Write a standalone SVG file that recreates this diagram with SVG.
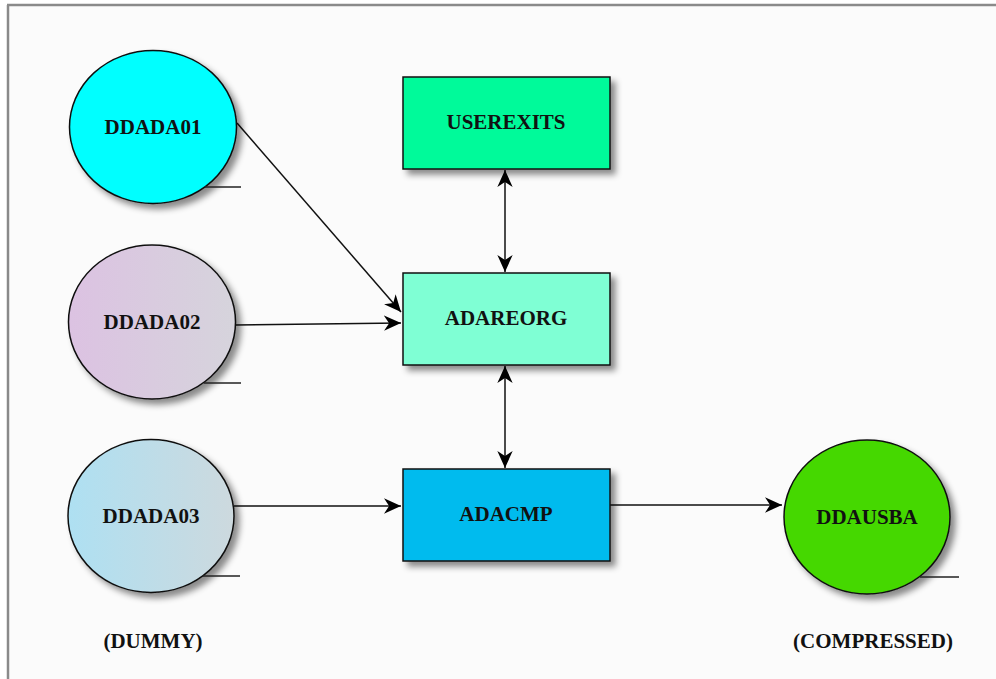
<svg xmlns="http://www.w3.org/2000/svg" width="996" height="679" viewBox="0 0 996 679">
  <defs>
    <filter id="sh" x="-20%" y="-20%" width="150%" height="150%">
      <feDropShadow dx="5" dy="5" stdDeviation="3" flood-color="#000" flood-opacity="0.45"/>
    </filter>
    <linearGradient id="g2" x1="0" y1="0" x2="1" y2="0">
      <stop offset="0" stop-color="#dcc2e2"/>
      <stop offset="1" stop-color="#d6d4dc"/>
    </linearGradient>
    <linearGradient id="g3" x1="0" y1="0" x2="1" y2="0">
      <stop offset="0" stop-color="#aee0f2"/>
      <stop offset="1" stop-color="#cdd9de"/>
    </linearGradient>
    <marker id="ah" viewBox="0 0 10 10" refX="10" refY="5" markerWidth="17" markerHeight="17" markerUnits="userSpaceOnUse" orient="auto-start-reverse">
      <path d="M0,0.5 L10,5 L0,9.5 L3,5 Z" fill="#000"/>
    </marker>
    <style>
      .nd { stroke: #111; stroke-width: 1.5; filter: url(#sh); }
      .lb { font-family: "Liberation Serif", "DejaVu Serif", serif; font-weight: bold; font-size: 21px; fill: #111; text-anchor: middle; }
      .ul { stroke: #222; stroke-width: 1.3; }
      .cn { stroke: #111; stroke-width: 1.5; fill: none; }
    </style>
  </defs>
  <rect x="0" y="0" width="996" height="679" fill="#ffffff"/>
  <rect x="8" y="5" width="1000" height="700" fill="#fbfbfb"/>
  <line x1="7" y1="5" x2="996" y2="5" stroke="#8a8a8a" stroke-width="2.5"/>
  <line x1="8" y1="5" x2="8" y2="679" stroke="#8a8a8a" stroke-width="2.5"/>

  <g id="connectors">
    <line class="cn" x1="237" y1="123" x2="401" y2="312" marker-end="url(#ah)"/>
    <line class="cn" x1="235" y1="325" x2="401" y2="323" marker-end="url(#ah)"/>
    <line class="cn" x1="234" y1="506" x2="401" y2="506" marker-end="url(#ah)"/>
    <line class="cn" x1="610" y1="505" x2="782" y2="505" marker-end="url(#ah)"/>
    <line class="cn" x1="505" y1="170" x2="505" y2="272" marker-start="url(#ah)" marker-end="url(#ah)"/>
    <line class="cn" x1="505" y1="366" x2="505" y2="468" marker-start="url(#ah)" marker-end="url(#ah)"/>
  </g>

  <g id="DDADA01">
    <ellipse class="nd" cx="153" cy="127" rx="83.5" ry="76.5" fill="#00ffff"/>
    <line class="ul" x1="205" y1="187" x2="241" y2="187"/>
    <text class="lb" x="153" y="134">DDADA01</text>
  </g>
  <g id="DDADA02">
    <ellipse class="nd" cx="152" cy="322" rx="83.5" ry="77" fill="url(#g2)"/>
    <line class="ul" x1="204" y1="383" x2="241" y2="383"/>
    <text class="lb" x="152" y="329">DDADA02</text>
  </g>
  <g id="DDADA03">
    <ellipse class="nd" cx="151" cy="516" rx="83" ry="76.5" fill="url(#g3)"/>
    <line class="ul" x1="203" y1="576" x2="240" y2="576"/>
    <text class="lb" x="151" y="523">DDADA03</text>
  </g>
  <g id="USEREXITS">
    <rect class="nd" x="403" y="77" width="207" height="92" fill="#00fa9a"/>
    <text class="lb" x="506" y="129">USEREXITS</text>
  </g>
  <g id="ADAREORG">
    <rect class="nd" x="403" y="273" width="207" height="92" fill="#7fffd4"/>
    <text class="lb" x="506" y="325">ADAREORG</text>
  </g>
  <g id="ADACMP">
    <rect class="nd" x="403" y="469" width="207" height="92" fill="#00bbee"/>
    <text class="lb" x="506" y="521">ADACMP</text>
  </g>
  <g id="DDAUSBA">
    <ellipse class="nd" cx="867" cy="517" rx="83" ry="77" fill="#44d800"/>
    <line class="ul" x1="920" y1="577" x2="959" y2="577"/>
    <text class="lb" x="867" y="524">DDAUSBA</text>
  </g>
  <g id="labels">
    <text class="lb" x="153" y="648">(DUMMY)</text>
    <text class="lb" x="873" y="648">(COMPRESSED)</text>
  </g>
</svg>
